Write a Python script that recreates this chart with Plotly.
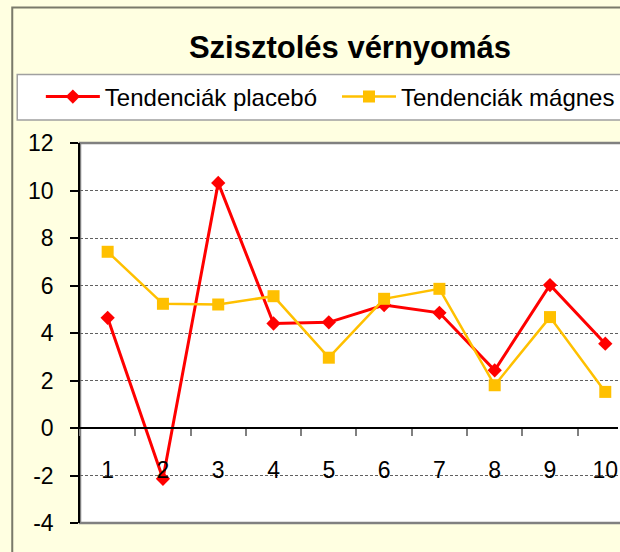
import plotly.graph_objects as go

categories = ["1", "2", "3", "4", "5", "6", "7", "8", "9", "10"]
placebo = [4.64, -2.14, 10.32, 4.40, 4.45, 5.18, 4.85, 2.43, 6.02, 3.55]
magnes = [7.42, 5.23, 5.20, 5.55, 2.96, 5.44, 5.86, 1.80, 4.67, 1.52]
y_ticks = [-4, -2, 0, 2, 4, 6, 8, 10, 12]

title_text = "Szisztolés vérnyomás"
name_placebo = "Tendenciák placebó"
name_magnes = "Tendenciák mágnes"

FONT = "Arial, Liberation Sans, sans-serif"
BG = "#FFFFE1"

fig = go.Figure()
fig.add_trace(go.Scatter(
    x=categories, y=placebo, name=name_placebo, mode="lines+markers",
    line=dict(color="#FF0000", width=3),
    marker=dict(symbol="diamond", size=11, color="#FF0000"),
    legend="legend",
))
fig.add_trace(go.Scatter(
    x=categories, y=magnes, name=name_magnes, mode="lines+markers",
    line=dict(color="#FFC000", width=2.5),
    marker=dict(symbol="square", size=12, color="#FFC000"),
    legend="legend2",
))

W, H = 620, 552
ml, mr, mt, mb = 80, 0, 143, 29
pw = W - ml - mr
ph = H - mt - mb

def px_x(x):
    return (x - ml) / pw

def px_y(y):
    return (H - mb - y) / ph

shapes = [
    # outer chart border
    dict(type="rect", xref="paper", yref="paper", layer="below",
         x0=px_x(12), x1=px_x(700), y0=px_y(620), y1=px_y(7.5),
         line=dict(color="#7A7A6A", width=2), fillcolor="rgba(0,0,0,0)"),
    # legend box
    dict(type="rect", xref="paper", yref="paper", layer="below",
         x0=px_x(17), x1=px_x(700), y0=px_y(120), y1=px_y(74.5),
         line=dict(color="#A0A0A0", width=1.5), fillcolor="white"),
    # plot area border
    dict(type="rect", xref="paper", yref="paper", layer="below",
         x0=0, x1=px_x(700), y0=0, y1=1,
         line=dict(color="#808080", width=2.5), fillcolor="white"),
]

legend_common = dict(orientation="h", xanchor="left", yanchor="middle",
                     y=px_y(97), bgcolor="rgba(0,0,0,0)", borderwidth=0,
                     itemwidth=54,
                     font=dict(family=FONT, size=24, color="black"))

fig.update_layout(
    width=W, height=H,
    margin=dict(l=ml, r=mr, t=mt, b=mb, pad=0),
    paper_bgcolor=BG, plot_bgcolor="white",
    font=dict(family=FONT, color="black", size=23),
    title=dict(text="<b>" + title_text + "</b>", x=350 / W,
               xanchor="center", y=1 - 47 / H, yanchor="middle",
               font=dict(family=FONT, size=31, color="black")),
    showlegend=True,
    legend=dict(x=px_x(40.7), **legend_common),
    legend2=dict(x=px_x(338), **legend_common),
    shapes=shapes,
    xaxis=dict(type="category", range=[-0.5, 9.23], anchor="free", position=0.25,
               showline=True, linecolor="black", linewidth=1.5,
               showgrid=False, zeroline=False,
               ticks="outside", tickson="boundaries", ticklen=7, tickcolor="#808080",
               tickwidth=1.5, ticklabelstandoff=22,
               tickfont=dict(family=FONT, size=23, color="black")),
    yaxis=dict(range=[-4, 12], tickvals=y_ticks, ticktext=[str(v) for v in y_ticks],
               showline=True, linecolor="black", linewidth=1.5,
               showgrid=True, gridcolor="#606060", gridwidth=1, griddash="3px,2px",
               zeroline=False,
               ticks="outside", ticklen=8, tickcolor="black", tickwidth=1.5,
               ticklabelstandoff=12,
               tickfont=dict(family=FONT, size=23, color="black")),
)

fig.write_html(
    "out.html",
    config={"displayModeBar": False},
    post_script="document.body.style.margin='0';document.body.style.overflow='hidden';",
)
